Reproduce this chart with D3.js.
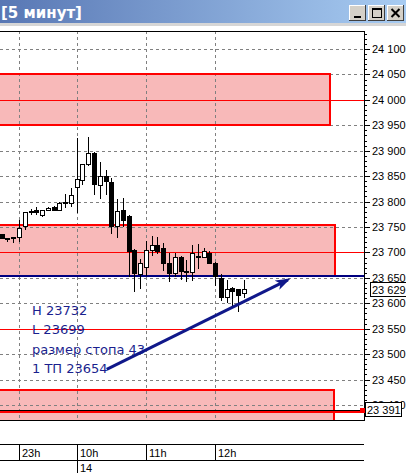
<!DOCTYPE html>
<html><head><meta charset="utf-8">
<script src="https://cdn.jsdelivr.net/npm/d3@7"></script>
<style>html,body{margin:0;padding:0;background:#fff;overflow:hidden}</style>
</head><body>
<svg id="c" width="406" height="473"></svg>
<script>
// ---- data ----
const opens  = [23736,23728,23728,23731,23751,23780,23784,23774,23783,23790,23783,23798,23798,23829,23843,23873,23896,23832,23850,23839,23751,23784,23772,23705,23657,23671,23704,23715,23709,23679,23659,23691,23663,23662,23692,23691,23699,23680,23650,23612,23630,23628,23620];
const highs  = [23737,23728,23731,23763,23780,23785,23789,23783,23789,23791,23800,23814,23827,23925,23874,23927,23897,23878,23863,23846,23805,23807,23773,23706,23687,23722,23733,23730,23718,23699,23699,23692,23685,23715,23717,23709,23702,23681,23658,23645,23633,23629,23646];
const lows   = [23728,23722,23720,23722,23747,23776,23776,23772,23783,23783,23783,23790,23792,23779,23835,23872,23815,23807,23814,23738,23731,23751,23653,23625,23630,23656,23695,23699,23666,23643,23653,23648,23643,23646,23669,23691,23679,23636,23607,23603,23597,23584,23613];
const closes = [23729,23727,23731,23748,23779,23781,23779,23783,23787,23783,23798,23799,23812,23844,23873,23896,23835,23851,23840,23751,23782,23764,23702,23660,23679,23705,23715,23702,23679,23659,23691,23664,23662,23699,23693,23702,23679,23654,23612,23628,23625,23617,23629];
const timeTickIdx = [3, 13, 25, 37];
const timeTickLabels = ["23h", "10h", "11h", "12h"];
const dateTickIdx = [13];
const dateTickLabels = ["14"];
const priceTicks = [24100,24050,24000,23950,23900,23850,23800,23750,23700,23650,23600,23550,23500,23450,23400];
const zoneTop = [24050, 23753, 23430];
const zoneBottom = [23950, 23654, 23300];
const zoneEndIdx = [56.9, 57.8, 57.6];
const redLevels = [24000, 23700, 23550];
const tpLevel = 23654;
const lastPrice = 23629;
const lowLevel = 23391;
const notes = ["H 23732", "L 23699", "размер стопа 43", "1 ТП 23654"];
const notePrice = [23577, 23539, 23500, 23462];
const noteIdx = 5.25;
const arrowFrom = [18.2, 23470];
const arrowTo = [49.6, 23646];
const title = "[5 минут]";

// ---- layout ----
const L = 0, R = 364, T = 31, B = 420;
const x = d3.scaleLinear().domain([0, 42]).range([1.7, 244]);
const y = d3.scaleLinear().domain([24100, 23400]).range([49, 405]);
const px = v => Math.round(v) + 0.5;
const fmt = d3.formatLocale({decimal: ".", thousands: " ", grouping: [3], currency: ["", ""]}).format(",");
const AX_FONT = "Liberation Sans, Arial, sans-serif";

const svg = d3.select("#c");
const defs = svg.append("defs");
const g = defs.append("linearGradient").attr("id", "tb");
g.append("stop").attr("offset", "0").attr("stop-color", "#5877b4");
g.append("stop").attr("offset", "1").attr("stop-color", "#a8ccf2");
defs.append("clipPath").attr("id", "clip").append("rect").attr("x", L).attr("y", T).attr("width", R - L).attr("height", B - T);
const mk = defs.append("marker").attr("id", "ah").attr("viewBox", "0 0 10 10").attr("refX", 8).attr("refY", 5)
  .attr("preserveAspectRatio", "none")
  .attr("markerWidth", 5).attr("markerHeight", 3.4).attr("markerUnits", "strokeWidth").attr("orient", "auto");
mk.append("path").attr("d", "M0,0 L10,5 L0,10 L2.5,5 Z").attr("fill", "#10188a");

// title bar
svg.append("rect").attr("x", 0).attr("y", 0).attr("width", 406).attr("height", 23).attr("fill", "url(#tb)");
svg.append("rect").attr("x", 0).attr("y", 23).attr("width", 406).attr("height", 3).attr("fill", "#d6d6d6");
svg.append("text").attr("x", 1).attr("y", 18).attr("fill", "#fff").attr("font-family", "DejaVu Sans, sans-serif")
  .attr("font-weight", "bold").attr("font-size", 15).text(title);
const btnX = [349, 368, 387];
const btn = svg.append("g").attr("shape-rendering", "crispEdges");
btnX.forEach((bx, i) => {
  btn.append("rect").attr("x", bx).attr("y", 5).attr("width", 17).attr("height", 16).attr("fill", "#d4d0c8");
  btn.append("path").attr("d", `M${bx+0.5},${21}V${5.5}H${bx+17}`).attr("stroke", "#fff").attr("fill", "none");
  btn.append("path").attr("d", `M${bx},${20.5}H${bx+16.5}V${5}`).attr("stroke", "#404040").attr("fill", "none");
  const cx = bx + 8.5, cy = 13;
  if (i === 0) btn.append("rect").attr("x", cx - 4).attr("y", 16).attr("width", 7).attr("height", 2).attr("fill", "#000");
  if (i === 1) { btn.append("rect").attr("x", cx - 4.5).attr("y", 8.5).attr("width", 9).attr("height", 9).attr("fill", "none").attr("stroke", "#000");
                 btn.append("rect").attr("x", cx - 5).attr("y", 8).attr("width", 10).attr("height", 2).attr("fill", "#000"); }
  if (i === 2) btn.append("path").attr("d", `M${cx-4},${cy-4}L${cx+4},${cy+4}M${cx+4},${cy-4}L${cx-4},${cy+4}`).attr("stroke", "#000").attr("stroke-width", 2).attr("shape-rendering", "auto");
});

// plot
const plot = svg.append("g").attr("clip-path", "url(#clip)");
const zi = d3.range(zoneTop.length);
plot.selectAll(".zf").data(zi).join("rect")
  .attr("x", -3).attr("y", i => Math.round(y(zoneTop[i])))
  .attr("width", i => Math.round(x(zoneEndIdx[i])) + 3).attr("height", i => Math.round(y(zoneBottom[i])) - Math.round(y(zoneTop[i])))
  .attr("fill", "#f8b9b9");
const grid = plot.append("g").attr("stroke", "#808080").attr("stroke-dasharray", "3,3").attr("shape-rendering", "crispEdges");
grid.selectAll(".h").data(priceTicks).join("line").attr("x1", L).attr("x2", R).attr("y1", d => px(y(d))).attr("y2", d => px(y(d)));
grid.selectAll(".v").data(timeTickIdx).join("line").attr("y1", T).attr("y2", B).attr("x1", d => px(x(d))).attr("x2", d => px(x(d)));
plot.selectAll(".zb").data(zi).join("rect")
  .attr("x", -3).attr("y", i => Math.round(y(zoneTop[i])))
  .attr("width", i => Math.round(x(zoneEndIdx[i])) + 3).attr("height", i => Math.round(y(zoneBottom[i])) - Math.round(y(zoneTop[i])))
  .attr("fill", "none").attr("stroke", "#ff0000").attr("stroke-width", 2).attr("shape-rendering", "crispEdges");
plot.selectAll(".rl").data(redLevels).join("line").attr("x1", L).attr("x2", R)
  .attr("y1", d => px(y(d))).attr("y2", d => px(y(d))).attr("stroke", "#ff0000").attr("shape-rendering", "crispEdges");
plot.append("line").attr("x1", L).attr("x2", R).attr("y1", Math.round(y(lowLevel)) + 1.5).attr("y2", Math.round(y(lowLevel)) + 1.5)
  .attr("stroke", "#ff0000").attr("stroke-width", 2).attr("shape-rendering", "crispEdges");
plot.append("line").attr("x1", L).attr("x2", R).attr("y1", px(y(lowLevel))).attr("y2", px(y(lowLevel)))
  .attr("stroke", "#000").attr("shape-rendering", "crispEdges");
plot.append("line").attr("x1", L).attr("x2", R).attr("y1", Math.round(y(tpLevel))).attr("y2", Math.round(y(tpLevel)))
  .attr("stroke", "#000080").attr("stroke-width", 2).attr("shape-rendering", "crispEdges");

// candles
const cg = plot.append("g").attr("shape-rendering", "crispEdges");
const idx = d3.range(opens.length);
cg.selectAll(".w").data(idx).join("line")
  .attr("x1", i => px(x(i))).attr("x2", i => px(x(i)))
  .attr("y1", i => Math.round(y(highs[i]))).attr("y2", i => Math.round(y(lows[i])) + 1)
  .attr("stroke", "#000");
cg.selectAll(".b").data(idx).join("rect")
  .attr("x", i => Math.round(x(i)) - 1.5).attr("width", 4)
  .attr("y", i => Math.round(y(Math.max(opens[i], closes[i]))) + 0.5)
  .attr("height", i => Math.max(1, Math.round(y(Math.min(opens[i], closes[i]))) - Math.round(y(Math.max(opens[i], closes[i])))))
  .attr("fill", i => closes[i] >= opens[i] ? "#fff" : "#000").attr("stroke", "#000");

// notes
const noteColor = "#1a1f8e";
svg.append("g").selectAll("text").data(notes).join("text")
  .attr("x", x(noteIdx)).attr("y", (d, i) => y(notePrice[i]))
  .attr("fill", noteColor).attr("font-family", "DejaVu Sans, sans-serif").attr("font-size", 13).text(d => d);
svg.append("line").attr("x1", x(arrowFrom[0])).attr("y1", y(arrowFrom[1]))
  .attr("x2", x(arrowTo[0])).attr("y2", y(arrowTo[1]))
  .attr("stroke", "#10188a").attr("stroke-width", 3).attr("marker-end", "url(#ah)");

// frame
const fr = svg.append("g").attr("shape-rendering", "crispEdges").attr("stroke", "#000");
fr.append("line").attr("x1", L).attr("x2", R + 1).attr("y1", T + 0.5).attr("y2", T + 0.5);
fr.append("line").attr("x1", L).attr("x2", R + 1).attr("y1", B + 0.5).attr("y2", B + 0.5);
fr.append("line").attr("x1", R + 0.5).attr("x2", R + 0.5).attr("y1", T).attr("y2", B + 1);

// y axis
const minor = d3.range(23380, 24140, 10).filter(v => y(v) > T && y(v) < B);
const ax = svg.append("g").attr("transform", `translate(${R},0)`).attr("shape-rendering", "crispEdges");
ax.selectAll(".mt").data(minor).join("line").attr("x1", 0).attr("x2", 3)
  .attr("y1", d => px(y(d))).attr("y2", d => px(y(d))).attr("stroke", "#000");
const yAxis = d3.axisRight(y).tickValues(priceTicks).tickSize(6).tickPadding(2).tickFormat(fmt);
ax.append("g").call(yAxis).call(s => s.select(".domain").remove())
  .call(s => s.selectAll("text").attr("font-family", AX_FONT).attr("font-size", 11).attr("fill", "#000"))
  .call(s => s.selectAll(".tick line").attr("stroke", "#000"))
  .call(s => s.selectAll(".tick").attr("transform", d => `translate(0,${px(y(d))})`));

// price labels
function priceBox(v, bx, w, dy) {
  const yy = Math.round(y(v)) + dy;
  svg.append("rect").attr("x", bx + 0.5).attr("y", yy - 7.5).attr("width", w).attr("height", 14)
    .attr("fill", "#fff").attr("stroke", "#000").attr("shape-rendering", "crispEdges");
  svg.append("text").attr("x", bx + 2).attr("y", yy).attr("dy", "0.36em").attr("font-family", AX_FONT)
    .attr("font-size", 11).attr("fill", "#000").text(fmt(v));
}
priceBox(lastPrice, 370, 40, 1);
svg.append("rect").attr("x", R - 4).attr("y", Math.round(y(lowLevel)) - 2).attr("width", 6).attr("height", 5).attr("fill", "#ff0000");
priceBox(lowLevel, 365, 36, 0);

// time axis
const ta = svg.append("g").attr("shape-rendering", "crispEdges").attr("stroke", "#000");
ta.append("line").attr("x1", 0).attr("x2", R).attr("y1", 444.5).attr("y2", 444.5);
ta.append("line").attr("x1", 0).attr("x2", R).attr("y1", 460.5).attr("y2", 460.5);
ta.selectAll(".ts").data(timeTickIdx).join("line").attr("x1", d => px(x(d))).attr("x2", d => px(x(d)))
  .attr("y1", 444).attr("y2", d => dateTickIdx.includes(d) ? 473 : 461);
svg.append("g").selectAll("text").data(timeTickIdx).join("text")
  .attr("x", d => Math.round(x(d)) + 3).attr("y", 456.5).attr("font-family", AX_FONT)
  .attr("font-size", 11).attr("fill", "#000").text((d, i) => timeTickLabels[i]);
svg.append("g").selectAll("text").data(dateTickIdx).join("text")
  .attr("x", d => Math.round(x(d)) + 3).attr("y", 472).attr("font-family", AX_FONT)
  .attr("font-size", 11).attr("fill", "#000").text((d, i) => dateTickLabels[i]);
</script>
</body></html>
